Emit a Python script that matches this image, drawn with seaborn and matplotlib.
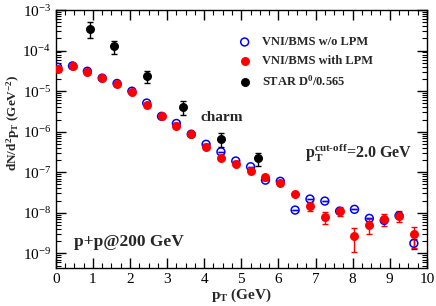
import numpy as np
import pandas as pd
import matplotlib
matplotlib.use("Agg")
import matplotlib.pyplot as plt
import seaborn as sns
from matplotlib.ticker import MultipleLocator, LogLocator, NullFormatter

# ---------------- data ----------------
pt = [0.05, 0.45, 0.85, 1.25, 1.65, 2.05, 2.45, 2.85, 3.25, 3.65, 4.05, 4.45, 4.85,
      5.25, 5.65, 6.05, 6.45, 6.85, 7.25, 7.65, 8.05, 8.45, 8.85, 9.25, 9.65]
wo_lpm = [3.9e-5, 4.2e-5, 3.1e-5, 2.1e-5, 1.55e-5, 1.0e-5, 5.1e-6, 2.4e-6, 1.6e-6, 8.7e-7,
          4.9e-7, 3.2e-7, 1.9e-7, 1.37e-7, 6.4e-8, 6.0e-8, 1.17e-8, 2.19e-8, 1.95e-8,
          1.1e-8, 1.22e-8, 7.3e-9, 6.5e-9, 8.5e-9, 1.77e-9]
wo_lpm_err = [0]*24 + [0.5e-9]
with_lpm = [3.5e-5, 4.2e-5, 3.0e-5, 2.1e-5, 1.5e-5, 9.5e-6, 4.5e-6, 2.4e-6, 1.4e-6, 8.6e-7,
            4.3e-7, 2.24e-7, 1.6e-7, 1.07e-7, 7.5e-8, 5.3e-8, 2.9e-8, 1.49e-8, 8.0e-9,
            1.1e-8, 2.7e-9, 5.0e-9, 7.1e-9, 8.5e-9, 2.95e-9]
with_lpm_err = [0]*17 + [0.4e-8, 2.6e-9, 2.8e-9, 1.6e-9, 2.0e-9, 2.3e-9, 2.5e-9, 1.6e-9]
star_pt = [0.92, 1.57, 2.45, 3.43, 4.45, 5.45]
star_val = [3.5e-4, 1.29e-4, 2.35e-5, 4.1e-6, 6.8e-7, 2.2e-7]
star_err = [1.5e-4, 0.45e-4, 0.75e-5, 1.5e-6, 2.6e-7, 0.8e-7]

labels = ["VNI/BMS w/o LPM", "VNI/BMS with LPM", "STAR D$^{\\mathbf{0}}$/0.565"]

# ---------------- style ----------------
sns.set_style("ticks")
plt.rcParams["font.family"] = ["Liberation Serif", "DejaVu Serif"]
plt.rcParams["mathtext.fontset"] = "custom"
plt.rcParams["mathtext.rm"] = "Liberation Serif"
plt.rcParams["mathtext.it"] = "Liberation Serif:italic"
plt.rcParams["mathtext.bf"] = "Liberation Serif:bold"

fig = plt.figure(figsize=(4.36, 3.06), dpi=100)
ax = fig.add_axes([0.128, 0.123, 0.851, 0.844])

df_wo = pd.DataFrame({"pt": pt, "v": wo_lpm})
df_w = pd.DataFrame({"pt": pt, "v": with_lpm})
df_s = pd.DataFrame({"pt": star_pt, "v": star_val})

# error bars
ax.errorbar(pt, wo_lpm, yerr=wo_lpm_err, fmt="none", ecolor="blue", elinewidth=1, capsize=2.2, capthick=1, zorder=2)
ax.errorbar(pt, with_lpm, yerr=with_lpm_err, fmt="none", ecolor="red", elinewidth=1, capsize=2.2, capthick=1, zorder=3)
ax.errorbar(star_pt, star_val, yerr=star_err, fmt="none", ecolor="black", elinewidth=1, capsize=2.2, capthick=1, zorder=4)

sns.scatterplot(data=df_wo, x="pt", y="v", ax=ax, marker="o", s=32, facecolor="none",
                edgecolor="blue", linewidth=1.1, zorder=3, label=labels[0])
sns.scatterplot(data=df_w, x="pt", y="v", ax=ax, marker="o", s=42, color="red",
                edgecolor="red", linewidth=0, zorder=4, label=labels[1])
sns.scatterplot(data=df_s, x="pt", y="v", ax=ax, marker="o", s=42, color="black",
                edgecolor="black", linewidth=0, zorder=5, label=labels[2])

ax.set_yscale("log")
ax.set_xlim(0, 10)
ax.set_ylim(4.27e-10, 1e-3)

ax.xaxis.set_major_locator(MultipleLocator(1))
ax.xaxis.set_minor_locator(MultipleLocator(0.25))
ax.yaxis.set_major_locator(LogLocator(base=10, numticks=20))
ax.yaxis.set_minor_locator(LogLocator(base=10, subs=np.arange(2, 10), numticks=20))
ax.yaxis.set_minor_formatter(NullFormatter())

ax.tick_params(which="both", direction="in", top=True, right=True, labelsize=11, colors="black")
ax.tick_params(which="major", length=7, width=1)
ax.tick_params(which="minor", length=3.5, width=0.8)
for s in ax.spines.values():
    s.set_linewidth(1.0)
    s.set_color("black")

ax.set_xlabel(r"$\mathbf{p_T}$ (GeV)", fontsize=11, fontweight="bold", labelpad=0)
ax.set_ylabel(r"dN/d$^{\mathbf{2}}$$\mathbf{p_T}$ (GeV$^{\mathbf{-2}}$)", fontsize=9.5,
              fontweight="bold")
ax.yaxis.set_label_coords(-0.092, 0.566)

leg = ax.legend(loc="upper left", bbox_to_anchor=(0.482, 0.918), frameon=False,
                prop={"weight": "bold", "size": 9}, handletextpad=1.0, labelspacing=0.55,
                handlelength=0.8, borderaxespad=0)

ax.text(0.39, 0.586, "charm", transform=ax.transAxes, fontsize=11, fontweight="bold",
        va="center", ha="left")
ax.text(0.671, 0.446, r"$\mathbf{p_T^{cut\text{-}off}}$=2.0 GeV", transform=ax.transAxes,
        fontsize=11.5, fontweight="bold", va="center", ha="left")
ax.text(0.05, 0.103, "p+p@200 GeV", transform=ax.transAxes, fontsize=12.5,
        fontweight="bold", va="center", ha="left")

fig.savefig("out.png", dpi=100)
